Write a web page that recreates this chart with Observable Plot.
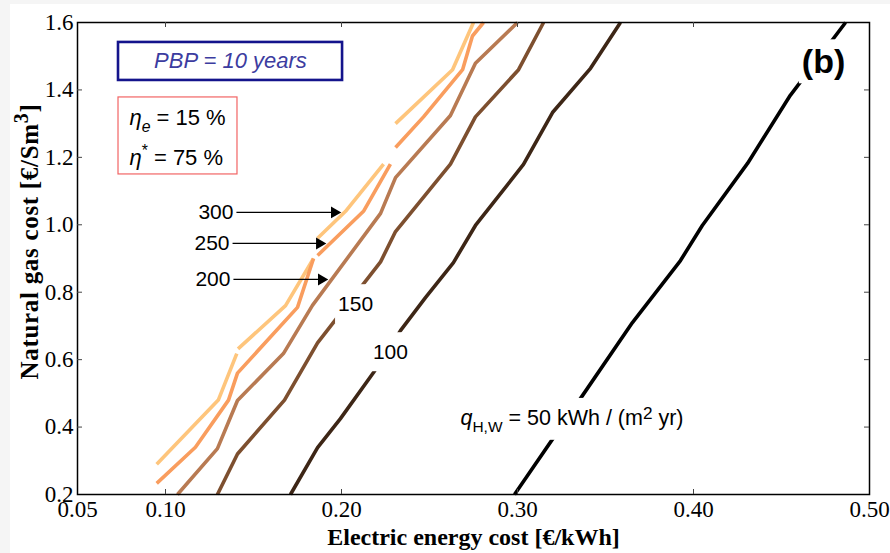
<!DOCTYPE html>
<html><head><meta charset="utf-8">
<script src="https://cdn.jsdelivr.net/npm/d3@7"></script>
<script src="https://cdn.jsdelivr.net/npm/@observablehq/plot@0.6"></script>
<style>
html,body{margin:0;padding:0;background:#f5f5f5;}
#chart{position:absolute;left:10px;top:4px;width:880px;height:549px;background:#fff;}
</style></head><body><div id="chart"></div>
<script>
// ---- axis ticks ----
const xTicks = [0.05, 0.10, 0.20, 0.30, 0.40, 0.50];
const xTickLabels = ["0.05", "0.10", "0.20", "0.30", "0.40", "0.50"];
const yTicks = [0.2, 0.4, 0.6, 0.8, 1.0, 1.2, 1.4, 1.6];
const yTickLabels = ["0.2", "0.4", "0.6", "0.8", "1.0", "1.2", "1.4", "1.6"];
const xLabel = "Electric energy cost [€/kWh]";
const yLabel = "YLABEL"; // Natural gas cost [€/Sm^3], built as rich text below

// ---- iso-lines (q_H,W levels) ----
const qLevels = ["50", "100", "150", "200", "250", "300"];
const q300X = [0.095, 0.130, 0.1405, 0.1412, 0.1682, 0.1841, 0.1864, 0.2023, 0.2239, 0.2307, 0.2631, 0.2750];
const q300Y = [0.29, 0.48, 0.618, 0.632, 0.76, 0.90, 0.96, 1.04, 1.18, 1.30, 1.46, 1.60];
const q300Seg = [0, 0, 0, 1, 1, 1, 2, 2, 2, 3, 3, 3];
const q250X = [0.095, 0.117, 0.1358, 0.1409, 0.1750, 0.1841, 0.1864, 0.2125, 0.2278, 0.2307, 0.2466, 0.2688, 0.2744, 0.2807];
const q250Y = [0.233, 0.34, 0.48, 0.56, 0.755, 0.90, 0.909, 1.04, 1.18, 1.229, 1.32, 1.46, 1.56, 1.60];
const q250Seg = [0, 0, 0, 0, 0, 0, 1, 1, 1, 2, 2, 2, 2, 2];
const q200X = [0.1068, 0.1295, 0.1409, 0.167, 0.1835, 0.2222, 0.2307, 0.2619, 0.2761, 0.300];
const q200Y = [0.2, 0.336, 0.479, 0.618, 0.761, 1.034, 1.14, 1.324, 1.479, 1.6];
const q150X = [0.1295, 0.1409, 0.1676, 0.1864, 0.2222, 0.2307, 0.2619, 0.2761, 0.3006, 0.3148];
const q150Y = [0.2, 0.32, 0.48, 0.65, 0.89, 0.98, 1.18, 1.32, 1.46, 1.60];
const q100X = [0.171, 0.1864, 0.1994, 0.2182, 0.2335, 0.2477, 0.2636, 0.2761, 0.3034, 0.3199, 0.3415, 0.3585];
const q100Y = [0.2, 0.339, 0.425, 0.562, 0.686, 0.784, 0.888, 0.998, 1.179, 1.333, 1.464, 1.6];
const q50X = [0.2983, 0.337, 0.3653, 0.3926, 0.405, 0.4307, 0.455, 0.4864];
const q50Y = [0.2, 0.494, 0.71, 0.894, 0.998, 1.182, 1.384, 1.6];

// ---- annotations (data coordinates) ----
const arrowLabels = ["300", "250", "200"];
const arrowY = [1.0366, 0.9446, 0.8378];
const arrowX1 = [0.1403, 0.1381, 0.1386];
const arrowX2 = [0.1977, 0.1892, 0.1903];
const lineLabels = ["150", "100"];
const lineLabelX = [0.208, 0.2278];
const lineLabelY = [0.7636, 0.6212];

// styles
const qColors = ["#000000", "#3d2616", "#7d4f2f", "#b87a52", "#f99d5e", "#fec57c"];
const SANS = "Liberation Sans, Arial, sans-serif";
const SERIF = "Liberation Serif, Times New Roman, serif";

const series = [
  ["300", q300X, q300Y, q300Seg], ["250", q250X, q250Y, q250Seg],
  ["200", q200X, q200Y, null], ["150", q150X, q150Y, null],
  ["100", q100X, q100Y, null], ["50", q50X, q50Y, null]
];
const rows = [];
for (const [q, X, Y, S] of series) {
  X.forEach((x, i) => rows.push({q, key: q + "-" + (S ? S[i] : 0), x, y: Y[i]}));
}
const arrows = arrowLabels.map((t, i) => ({t, y: arrowY[i], x1: arrowX1[i], x2: arrowX2[i]}));
const lLabels = lineLabels.map((t, i) => ({t, x: lineLabelX[i], y: lineLabelY[i]}));

const boxes = [
  {x1: 0.0733, x2: 0.2006, y1: 1.4281, y2: 1.5408, stroke: "#14148c", sw: 2.6},
  {x1: 0.0733, x2: 0.1409, y1: 1.1493, y2: 1.3777, stroke: "#f26464", sw: 1.2}
];

const chart = Plot.plot({
  width: 880, height: 549,
  marginLeft: 67, marginRight: 21, marginTop: 18, marginBottom: 59,
  x: {domain: [0.05, 0.5]},
  y: {domain: [0.2, 1.6]},
  color: {domain: qLevels, range: qColors},
  style: {background: "white", fontFamily: SERIF},
  marks: [
    Plot.line(rows, {x: "x", y: "y", z: "key", stroke: "q", strokeWidth: 3.6, strokeLinecap: "butt", strokeLinejoin: "miter"}),
    Plot.rect(boxes, {x1: "x1", x2: "x2", y1: "y1", y2: "y2", fill: "white", stroke: d => d.stroke, strokeWidth: d => d.sw}),
    Plot.frame({stroke: "black", strokeWidth: 1.5}),
    Plot.ruleX(xTicks.slice(1, -1), {x: d => d, y1: 0.2, y2: 0.2, insetBottom: 5, stroke: "#444"}),
    Plot.ruleX(xTicks.slice(1, -1), {x: d => d, y1: 1.6, y2: 1.6, insetTop: 5, stroke: "#444"}),
    Plot.ruleY(yTicks.slice(1, -1), {y: d => d, x1: 0.05, x2: 0.05, insetLeft: 5, stroke: "#444"}),
    Plot.ruleY(yTicks.slice(1, -1), {y: d => d, x1: 0.5, x2: 0.5, insetRight: 5, stroke: "#444"}),
    Plot.axisX(xTicks, {anchor: "bottom", tickSize: 0, tickPadding: 6, label: null, fontSize: 23, fontFamily: SERIF, fill: "black",
      tickFormat: d => xTickLabels[xTicks.indexOf(d)]}),
    Plot.axisY(yTicks, {anchor: "left", tickSize: 0, tickPadding: 4, label: null, fontSize: 23, fontFamily: SERIF, fill: "black",
      tickFormat: d => yTickLabels[yTicks.indexOf(d)]}),
    Plot.text([xLabel], {frameAnchor: "bottom", textAnchor: "middle", lineAnchor: "middle", dy: 43, text: d => d, fontSize: 24, fontWeight: "bold", fontFamily: SERIF}),
    Plot.text([yLabel], {frameAnchor: "left", textAnchor: "middle", lineAnchor: "middle", rotate: -90, dx: -48, dy: -17, text: d => d, fontSize: 25, fontWeight: "bold", fontFamily: SERIF}),
    // arrows
    Plot.link(arrows, {x1: "x1", x2: "x2", y1: "y", y2: "y", stroke: "black", strokeWidth: 1.3}),
    Plot.dot(arrows, {x: "x2", y: "y", symbol: "triangle", rotate: 90, r: 4.4, fill: "black", dx: -3}),
    Plot.text(arrows, {x: "x1", y: "y", text: "t", textAnchor: "end", dx: -3, fontSize: 21, fontFamily: SANS}),
    Plot.text(lLabels, {x: "x", y: "y", text: "t", fontSize: 21, fontFamily: SANS}),
    Plot.text(["QLABEL"], {x: 0.2676, y: 0.4255, text: d => d, textAnchor: "start", fontSize: 21.5, fontFamily: SANS}),
    Plot.text(["(b)"], {x: 0.4739, y: 1.4815, text: d => d, fontSize: 34, fontWeight: "bold", fontFamily: SANS}),
    Plot.text(["PBP = 10 years"], {x: 0.1369, y: 1.4845, text: d => d, fontSize: 22, fontStyle: "italic", fill: "#3c3ca0", fontFamily: SANS}),
    Plot.text(["ETAE"], {x: 0.0795, y: 1.3154, text: d => d, textAnchor: "start", fontSize: 22, fontFamily: SANS}),
    Plot.text(["ETAS"], {x: 0.0795, y: 1.1997, text: d => d, textAnchor: "start", fontSize: 22, fontFamily: SANS})
  ]
});
document.getElementById("chart").appendChild(chart);

// ---- rich text and white label backgrounds ----
const NS = "http://www.w3.org/2000/svg";
const rich = {
  YLABEL: {fs: 25, spacing: 0.7, parts: [["Natural gas cost [€/Sm"], ["3", {sup: 1, size: 0.8}], ["]"]]},
  QLABEL: {fs: 21.5, parts: [["q", {italic: 1}], ["H,W", {sub: 1}], [" = 50 kWh / (m"], ["2", {sup: 1, size: 0.8, rise: 0.3}], [" yr)"]]},
  ETAE: {fs: 22, parts: [["η", {italic: 1}], ["e", {sub: 1, italic: 1}], [" = 15 %"]]},
  ETAS: {fs: 22, parts: [["η", {italic: 1}], ["*", {sup: 1}], [" = 75 %"]]}
};
function setRich(el, spec) {
  el.textContent = "";
  if (spec.spacing) el.setAttribute("letter-spacing", spec.spacing);
  let shift = 0;
  for (const [t, o = {}] of spec.parts) {
    const ts = document.createElementNS(NS, "tspan");
    ts.textContent = t;
    const target = o.sub ? 0.3 * spec.fs : o.sup ? -(o.rise || 0.38) * spec.fs : 0;
    ts.setAttribute("dy", target - shift);
    shift = target;
    if (o.sub || o.sup) ts.setAttribute("font-size", (o.size || 0.72) * spec.fs);
    if (o.italic) ts.setAttribute("font-style", "italic");
    el.appendChild(ts);
  }
}
function boxBehind(el, px, py) {
  const b = el.getBBox();
  const r = document.createElementNS(NS, "rect");
  r.setAttribute("x", b.x - px); r.setAttribute("y", b.y - py);
  r.setAttribute("width", b.width + 2 * px); r.setAttribute("height", b.height + 2 * py);
  r.setAttribute("fill", "white"); r.setAttribute("stroke", "none");
  const tr = el.getAttribute("transform");
  if (tr) r.setAttribute("transform", tr);
  el.parentNode.insertBefore(r, el);
}
const boxed = {"QLABEL": [2, 5], "150": [3, 8], "100": [3, 8], "(b)": [3, 3]};
chart.querySelectorAll("text").forEach(el => {
  const key = el.textContent;
  if (rich[key]) setRich(el, rich[key]);
  if (boxed[key]) boxBehind(el, boxed[key][0], boxed[key][1]);
});
</script></body></html>
